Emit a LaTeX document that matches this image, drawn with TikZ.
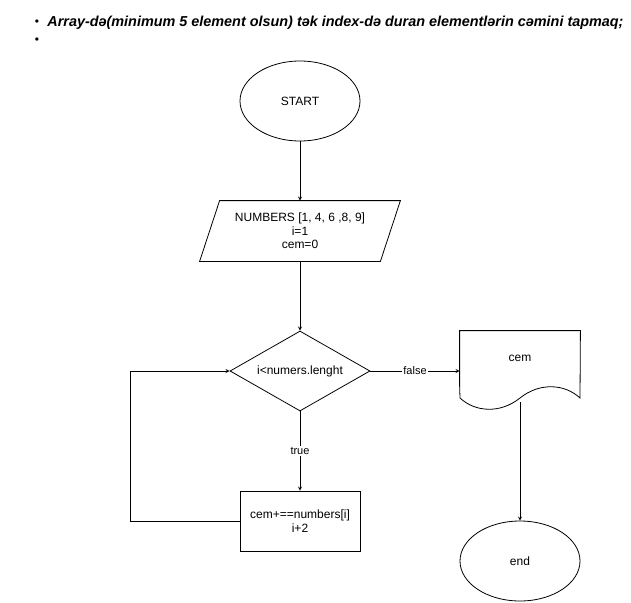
\documentclass[tikz,border=0pt]{standalone}
\usepackage{fontspec}
\setmainfont{Liberation Sans}
\usetikzlibrary{shapes.geometric,positioning}
\tikzset{>=stealth}
\tikzset{
  term/.style={ellipse, draw, minimum width=120pt, minimum height=80pt, inner sep=0pt},
  cond/.style={diamond, draw, aspect=1.75, minimum width=140pt, minimum height=80pt, inner sep=1pt},
  proc/.style={rectangle, draw, minimum width=120pt, minimum height=60pt, align=center},
  lbl/.style={fill=white, inner sep=1pt, font=\fontsize{11}{12}\selectfont},
  flow/.style={->, line width=0.8pt}
}

\begin{document}
\begin{tikzpicture}[x=1pt, y=-1pt, line width=0.8pt,
  every node/.append style={font=\fontsize{12}{13.5}\selectfont}]
\useasboundingbox (0,0) rectangle (631,602);

% header
\node (b1) at (37,23) {\textbullet};
\node[anchor=west, inner sep=0pt, font=\fontsize{14.4}{16}\selectfont\bfseries\itshape] (head) at (47,23)
  {Array-də(minimum 5 element olsun) tək index-də duran elementlərin cəmini tapmaq;};
\node (b2) at (37,41) {\textbullet};

% flowchart
\node[term] (start) at (300,101) {START};
\node[minimum width=180pt, minimum height=60pt, align=center, inner sep=0pt] (inp) at (300,231)
  {NUMBERS [1, 4, 6 ,8, 9]\\i=1\\cem=0};
\draw ([xshift=10pt]inp.north west) -- ([xshift=10pt]inp.north east)
  -- ([xshift=-10pt]inp.south east) -- ([xshift=-10pt]inp.south west) -- cycle;
\node[cond] (cond) at (300,371) {i<numers.lenght};
\node[proc] (calc) at (300,521) {cem+==numbers[i]\\i+2};
\node[minimum width=120pt, minimum height=54pt, inner sep=0pt] (res) at (520,358) {cem};
\draw (res.south west) -- (res.north west) -- (res.north east) -- (580,398)
  .. controls (565,384) and (540,382) .. (520,398)
  .. controls (500,414) and (475,412) .. (460,398) -- (res.south west);
\node[term] (end) at (520,561) {end};

\coordinate (resbot) at (520,402);
\coordinate (loop) at (130,521);

\draw[flow] (start) -- (inp);
\draw[flow] (inp) -- (cond);
\draw[flow] (cond.east) -- node[lbl] {false} (res.west |- cond.east);
\draw[flow] (cond.south) -- node[lbl] {true} (calc.north);
\draw[flow] (calc.west) -- (loop) |- (cond.west);
\draw[flow] (resbot) -- (end);
\end{tikzpicture}
\end{document}
